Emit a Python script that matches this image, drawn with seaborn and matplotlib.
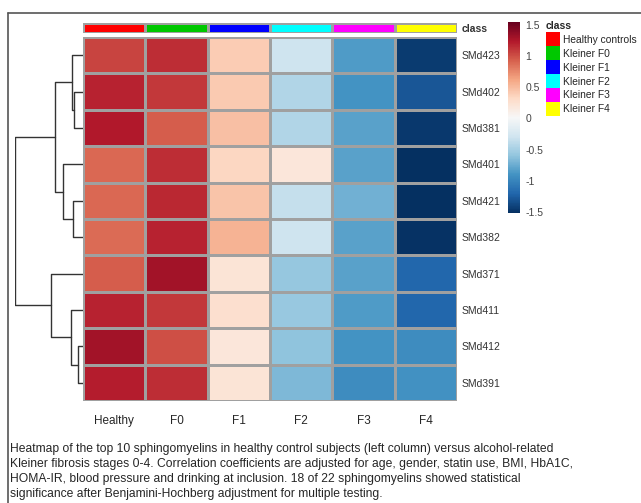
import numpy as np
import pandas as pd
import matplotlib
matplotlib.use("Agg")
import matplotlib.pyplot as plt
from matplotlib.colors import ListedColormap
from matplotlib.patches import Patch
from matplotlib.lines import Line2D
import seaborn as sns

# Данные: строки сверху вниз, столбцы слева направо
lipids = ["SMd423", "SMd402", "SMd381", "SMd401", "SMd421",
          "SMd382", "SMd371", "SMd411", "SMd412", "SMd391"]
columns = ["Healthy", "F0", "F1", "F2", "F3", "F4"]

healthy = [1.05, 1.20, 1.25, 0.90, 0.90, 0.88, 0.95, 1.20, 1.30, 1.22]
f0 = [1.15, 1.10, 0.95, 1.15, 1.17, 1.20, 1.30, 1.10, 1.00, 1.15]
f1 = [0.40, 0.42, 0.48, 0.35, 0.45, 0.55, 0.22, 0.27, 0.20, 0.22]
f2 = [-0.30, -0.45, -0.45, 0.20, -0.35, -0.30, -0.58, -0.57, -0.60, -0.68]
f3 = [-0.85, -0.90, -0.82, -0.82, -0.72, -0.82, -0.82, -0.85, -0.90, -0.95]
f4 = [-1.45, -1.30, -1.47, -1.52, -1.52, -1.50, -1.20, -1.20, -0.95, -0.92]

class_names = ["Healthy controls", "Kleiner F0", "Kleiner F1",
               "Kleiner F2", "Kleiner F3", "Kleiner F4"]
class_colors = ["#FF0000", "#00C800", "#0000FF", "#00FFFF", "#FF00FF", "#FFFF00"]

# Кластеризация строк: (левый, правый, высота); листья 0..9 в порядке отображения
row_linkage = [(1, 2, 9), (0, 10, 11), (4, 5, 10), (3, 12, 20), (11, 13, 28),
               (8, 9, 5), (7, 15, 12), (6, 16, 32), (14, 17, 68)]

caption = ("Heatmap of the top 10 sphingomyelins in healthy control subjects (left column) versus alcohol-related\n"
           "Kleiner fibrosis stages 0-4. Correlation coefficients are adjusted for age, gender, statin use, BMI, HbA1C,\n"
           "HOMA-IR, blood pressure and drinking at inclusion. 18 of 22 sphingomyelins showed statistical\n"
           "significance after Benjamini-Hochberg adjustment for multiple testing.")

W, H = 641, 503


def box(x0, y0, x1, y1):
    """Пиксели (сверху-слева) -> координаты фигуры."""
    return [x0 / W, 1 - y1 / H, (x1 - x0) / W, (y1 - y0) / H]


def draw_dendrogram(ax, linkage, n_leaves):
    pos = {i: i + 0.5 for i in range(n_leaves)}
    hgt = {i: 0 for i in range(n_leaves)}
    for k, (a, b, h) in enumerate(linkage):
        node = n_leaves + k
        ya, yb = pos[a], pos[b]
        ax.plot([hgt[a], h, h, hgt[b]], [ya, ya, yb, yb], color="#333333", lw=1)
        pos[node] = (ya + yb) / 2
        hgt[node] = h
    ax.set_ylim(n_leaves, 0)
    ax.set_xlim(linkage[-1][2], 0)
    ax.axis("off")


def main():
    sns.set_theme(style="white")
    plt.rcParams["font.family"] = ["Liberation Sans", "DejaVu Sans"]

    df = pd.DataFrame({"Healthy": healthy, "F0": f0, "F1": f1,
                       "F2": f2, "F3": f3, "F4": f4}, index=lipids)[columns]

    fig = plt.figure(figsize=(W / 100, H / 100), dpi=100)

    ax = fig.add_axes(box(83, 37, 457, 401))
    cax = fig.add_axes(box(508, 22, 520, 213))
    bar_ax = fig.add_axes(box(83, 23, 457, 33))
    den_ax = fig.add_axes(box(15, 37, 83, 401))

    sns.heatmap(df, ax=ax, cmap="RdBu_r", vmin=-1.52, vmax=1.55,
                linewidths=0.8, linecolor="#a0a0a0", cbar_ax=cax)
    ax.yaxis.tick_right()
    ax.tick_params(axis="y", length=0, pad=3, labelsize=7.5,
                   labelcolor="#333333", rotation=0)
    ax.tick_params(axis="x", length=0, pad=10, labelsize=8.5, rotation=0)
    ax.set_xlabel("")
    ax.set_ylabel("")

    cax.set_yticks([1.5, 1, 0.5, 0, -0.5, -1, -1.5])
    cax.set_yticklabels(["1.5", "1", "0.5", "0", "-0.5", "-1", "-1.5"])
    cax.tick_params(length=0, pad=4, labelsize=7.5, labelcolor="#444444")
    for s in cax.spines.values():
        s.set_visible(False)

    sns.heatmap(pd.DataFrame([list(range(len(class_names)))]), ax=bar_ax,
                cmap=ListedColormap(class_colors), cbar=False,
                linewidths=0.8, linecolor="#a0a0a0",
                xticklabels=False, yticklabels=["class"])
    bar_ax.yaxis.tick_right()
    bar_ax.tick_params(axis="y", length=0, pad=3, labelsize=7.5, rotation=0)
    for t in bar_ax.get_yticklabels():
        t.set_fontweight("bold")
        t.set_color("#333333")

    draw_dendrogram(den_ax, row_linkage, len(lipids))

    handles = [Patch(facecolor=c, edgecolor="none") for c in class_colors]
    leg = fig.legend(handles, class_names, title="class", loc="upper left",
                     bbox_to_anchor=(546 / W, 1 - 21 / H), frameon=False,
                     fontsize=7.4, title_fontsize=7.5, handlelength=1.36,
                     handleheight=1.71, handletextpad=0.3, labelspacing=0.0,
                     borderaxespad=0, borderpad=0)
    leg.get_title().set_fontweight("bold")
    leg._legend_box.align = "left"
    leg._legend_box.sep = 1

    fig.text(10 / W, 1 - 443 / H, caption, ha="left", va="top",
             fontsize=8.7, linespacing=1.32)

    fig.add_artist(Line2D([8 / W, 1], [1 - 13 / H] * 2, transform=fig.transFigure,
                          color="#555555", lw=1.2))
    fig.add_artist(Line2D([8 / W] * 2, [0, 1 - 13 / H], transform=fig.transFigure,
                          color="#555555", lw=1.2))

    fig.savefig("out.png", dpi=100)


if __name__ == "__main__":
    main()
